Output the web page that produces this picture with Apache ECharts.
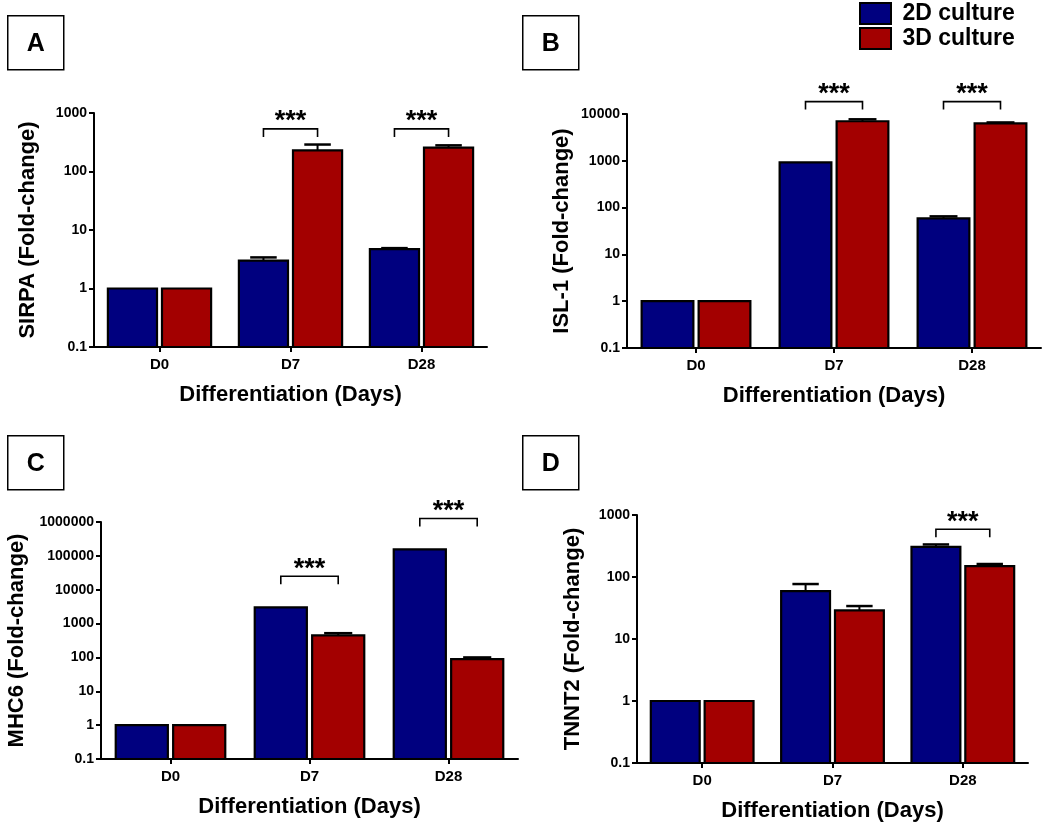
<!DOCTYPE html>
<html>
<head>
<meta charset="utf-8">
<script src="https://cdn.jsdelivr.net/npm/echarts@6/dist/echarts.min.js"></script>
<style>
  html, body { margin: 0; padding: 0; background: #fff; }
  #chart { width: 1050px; height: 829px; }
</style>
</head>
<body>
<div id="chart"></div>
<script>
// ---------------- DATA ----------------
const categories = ['D0', 'D7', 'D28'];
const seriesNames = ['2D culture', '3D culture'];

// Panel A: SIRPA
const sirpa2D = [1, 3.0, 4.7];
const sirpa2DSem = [0, 0.4, 0.2];
const sirpa3D = [1, 229, 255];
const sirpa3DSem = [0, 60, 25];
const sirpaSig = [[1, 535], [2, 535]];

// Panel B: ISL-1
const isl2D = [1, 930, 59];
const isl2DSem = [0, 0, 6];
const isl3D = [1, 7000, 6300];
const isl3DSem = [0, 700, 300];
const islSig = [[1, 18400], [2, 18400]];

// Panel C: MHC6
const mhc2D = [1, 3000, 155000];
const mhc2DSem = [0, 0, 0];
const mhc3D = [1, 450, 89];
const mhc3DSem = [0, 70, 11];
const mhcSig = [[1, 25000], [2, 1270000]];

// Panel D: TNNT2
const tnnt2D = [1, 59, 305];
const tnnt2DSem = [0, 18, 30];
const tnnt3D = [1, 29, 150];
const tnnt3DSem = [0, 5, 12];
const tnntSig = [[2, 590]];

const yMaxTicks = [1000, 10000, 1000000, 1000];
const yMinTick = 0.1;
const panelLetters = ['A', 'B', 'C', 'D'];
const yTitles = ['SIRPA (Fold-change)', 'ISL-1 (Fold-change)', 'MHC6 (Fold-change)', 'TNNT2 (Fold-change)'];
const xTitle = 'Differentiation (Days)';

// ---------------- STYLE / LAYOUT ----------------
const FONT = '"Liberation Sans", Arial, sans-serif';
const BLUE = '#00007f';
const RED = '#a30000';
const grids = [
  { left: 94, top: 113, width: 393, height: 234 },
  { left: 627, top: 114, width: 414, height: 234 },
  { left: 101, top: 522, width: 417, height: 237 },
  { left: 637, top: 515, width: 391, height: 248 }
];
const yNameGaps = [55, 54, 73, 53];
const boxes = [
  { x: 7, y: 15 }, { x: 522, y: 15 }, { x: 7, y: 435 }, { x: 522, y: 435 }
];

const panelData = [
  [sirpa2D, sirpa2DSem, sirpa3D, sirpa3DSem, sirpaSig],
  [isl2D, isl2DSem, isl3D, isl3DSem, islSig],
  [mhc2D, mhc2DSem, mhc3D, mhc3DSem, mhcSig],
  [tnnt2D, tnnt2DSem, tnnt3D, tnnt3DSem, tnntSig]
];

const BAR_FRAC = 0.375;
const GAP_FRAC = 0.038;

function fmtLog(v) {
  const n = Number(Number(v).toPrecision(6));
  return String(n);
}

function barRenderer(side, color) {
  return function (params, api) {
    const cat = api.value(0), mean = api.value(1), sem = api.value(2);
    const band = api.size([1, 0])[0];
    const w = band * BAR_FRAC, gap = band * GAP_FRAC;
    const top = api.coord([cat, mean]);
    const base = api.coord([cat, yMinTick]);
    const cx = top[0] + side * (w / 2 + gap / 2);
    const children = [];
    if (sem > 0) {
      const et = api.coord([cat, mean + sem])[1];
      const capHalf = w * 0.27;
      children.push({
        type: 'polyline',
        shape: { points: [[cx, top[1]], [cx, et]] },
        style: { stroke: '#000', lineWidth: 2, fill: null }
      });
      children.push({
        type: 'polyline',
        shape: { points: [[cx - capHalf, et], [cx + capHalf, et]] },
        style: { stroke: '#000', lineWidth: 2.5, fill: null }
      });
    }
    children.push({
      type: 'rect',
      shape: { x: cx - w / 2, y: top[1], width: w, height: base[1] - top[1] },
      style: { fill: color, stroke: '#000', lineWidth: 2.2 }
    });
    return { type: 'group', children: children };
  };
}

function sigRenderer(params, api) {
  const cat = api.value(0), val = api.value(1);
  const band = api.size([1, 0])[0];
  const w = band * BAR_FRAC, gap = band * GAP_FRAC;
  const p = api.coord([cat, val]);
  const off = w / 2 + gap / 2;
  return {
    type: 'group',
    children: [
      {
        type: 'polyline',
        shape: { points: [[p[0] - off, p[1] + 8], [p[0] - off, p[1]], [p[0] + off, p[1]], [p[0] + off, p[1] + 8]] },
        style: { stroke: '#000', lineWidth: 1.6, fill: null }
      },
      {
        type: 'text',
        style: {
          text: '***', x: p[0], y: p[1] - 7, align: 'center', verticalAlign: 'middle',
          font: 'bold 27px ' + FONT, fill: '#000'
        }
      }
    ]
  };
}

const option = {
  animation: false,
  backgroundColor: '#fff',
  grid: grids.map(g => Object.assign({ containLabel: false }, g)),
  legend: {
    orient: 'vertical',
    left: 859,
    top: 2,
    padding: 0,
    itemWidth: 31,
    itemHeight: 21,
    itemGap: 2,
    formatter: name => ' ' + name,
    textStyle: { fontFamily: FONT, fontSize: 23, fontWeight: 'bold', color: '#000' },
    data: [
      { name: seriesNames[0], icon: 'rect', itemStyle: { color: BLUE, borderColor: '#000', borderWidth: 2 } },
      { name: seriesNames[1], icon: 'rect', itemStyle: { color: RED, borderColor: '#000', borderWidth: 2 } }
    ],
    selectedMode: false
  },
  xAxis: grids.map((g, i) => ({
    type: 'category',
    gridIndex: i,
    data: categories,
    axisLine: { show: true, lineStyle: { color: '#000', width: 2 } },
    axisTick: { show: true, alignWithLabel: true, length: 5, lineStyle: { color: '#000', width: 2 } },
    axisLabel: { fontFamily: FONT, fontSize: 15, fontWeight: 'bold', color: '#000', margin: 10 },
    name: xTitle,
    nameLocation: 'middle',
    nameGap: 37,
    nameTextStyle: { fontFamily: FONT, fontSize: 22, fontWeight: 'bold', color: '#000' }
  })),
  yAxis: grids.map((g, i) => ({
    type: 'log',
    logBase: 10,
    gridIndex: i,
    min: yMinTick,
    max: yMaxTicks[i],
    axisLine: { show: true, lineStyle: { color: '#000', width: 2 } },
    axisTick: { show: true, length: 5, lineStyle: { color: '#000', width: 2 } },
    minorTick: { show: false },
    splitLine: { show: false },
    axisLabel: { fontFamily: FONT, fontSize: 14, fontWeight: 'bold', color: '#000', margin: 7, formatter: fmtLog },
    name: yTitles[i],
    nameLocation: 'middle',
    nameGap: yNameGaps[i],
    nameTextStyle: { fontFamily: FONT, fontSize: 22, fontWeight: 'bold', color: '#000' }
  })),
  series: [],
  graphic: boxes.map((b, i) => ({
    type: 'group',
    left: b.x,
    top: b.y,
    children: [
      { type: 'rect', shape: { x: 0, y: 0, width: 56, height: 54 }, style: { fill: '#fff', stroke: '#000', lineWidth: 1.5 } },
      { type: 'text', x: 28, y: 28, style: { text: panelLetters[i], align: 'center', verticalAlign: 'middle', font: 'bold 25px ' + FONT, fill: '#000' } }
    ]
  }))
};

panelData.forEach((pd, i) => {
  const [d2, s2, d3, s3, sig] = pd;
  option.series.push({
    name: seriesNames[0], type: 'custom', xAxisIndex: i, yAxisIndex: i,
    itemStyle: { color: BLUE },
    encode: { x: 0, y: 1 },
    data: categories.map((c, k) => [k, d2[k], s2[k]]),
    renderItem: barRenderer(-1, BLUE), clip: false, z: 2
  });
  option.series.push({
    name: seriesNames[1], type: 'custom', xAxisIndex: i, yAxisIndex: i,
    itemStyle: { color: RED },
    encode: { x: 0, y: 1 },
    data: categories.map((c, k) => [k, d3[k], s3[k]]),
    renderItem: barRenderer(1, RED), clip: false, z: 2
  });
  option.series.push({
    name: 'sig' + i, type: 'custom', xAxisIndex: i, yAxisIndex: i,
    encode: { x: 0, y: 1 },
    data: sig,
    renderItem: sigRenderer, clip: false, z: 3
  });
});

const chart = echarts.init(document.getElementById('chart'), null, { renderer: 'canvas' });
chart.setOption(option);
</script>
</body>
</html>
